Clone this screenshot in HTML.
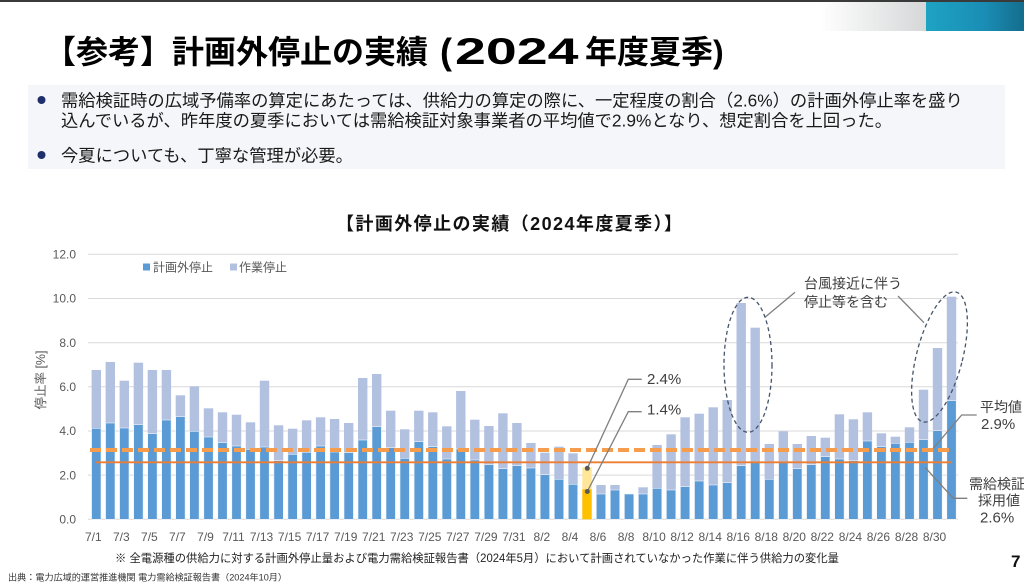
<!DOCTYPE html>
<html><head><meta charset="utf-8">
<style>
html,body{margin:0;padding:0;background:#fff;}
body{width:1024px;height:586px;overflow:hidden;}
svg{display:block;font-family:"Liberation Sans","Noto Sans CJK JP",sans-serif;}
</style></head>
<body>
<svg width="1024" height="586" viewBox="0 0 1024 586" xmlns="http://www.w3.org/2000/svg">
<defs>
<linearGradient id="gg" x1="0" x2="1" y1="0" y2="0"><stop offset="0" stop-color="#ffffff"/><stop offset="1" stop-color="#d6d7d8"/></linearGradient>
<linearGradient id="tg" x1="0" x2="1" y1="0" y2="0"><stop offset="0" stop-color="#1ea3c3"/><stop offset="0.6" stop-color="#1a8db5"/><stop offset="1" stop-color="#146d8c"/></linearGradient>
</defs>
<rect x="0" y="0" width="1024" height="586" fill="#fff"/>
<rect x="0" y="0" width="1024" height="2" fill="#3a3a3a"/>
<rect x="820" y="2" width="106" height="29" fill="url(#gg)"/>
<rect x="926" y="2" width="98" height="29" fill="url(#tg)"/>

<!-- Title -->
<text x="44" y="63" font-size="32" font-weight="bold" fill="#000">【参考】計画外停止の実績</text>
<text x="440" y="64" font-size="36" font-weight="bold" fill="#000">(</text>
<text transform="translate(455,64) scale(1.5,1)" x="0" y="0" font-size="37" font-weight="bold" fill="#000">2024</text>
<text x="585" y="63" font-size="32" font-weight="bold" fill="#000">年度夏季)</text>

<!-- Box -->
<rect x="28" y="85" width="977" height="84" fill="#f4f6f9"/>
<circle cx="41.5" cy="100" r="4" fill="#1f2f6b"/>
<circle cx="41.5" cy="155" r="4" fill="#1f2f6b"/>
<text x="61" y="106.5" font-size="17.3" fill="#1a1a1a">需給検証時の広域予備率の算定にあたっては、供給力の算定の際に、一定程度の割合（2.6%）の計画外停止率を盛り</text>
<text x="61" y="126.5" font-size="17.3" fill="#1a1a1a">込んでいるが、昨年度の夏季においては需給検証対象事業者の平均値で2.9%となり、想定割合を上回った。</text>
<text x="61" y="161.5" font-size="17.3" fill="#1a1a1a">今夏についても、丁寧な管理が必要。</text>

<!-- Chart title -->
<text x="336" y="230" font-size="18" font-weight="bold" fill="#111" textLength="346" lengthAdjust="spacing">【計画外停止の実績（2024年度夏季）】</text>

<!-- Grid -->
<g stroke="#d9d9d9" stroke-width="1">
<line x1="88" x2="958" y1="254.3" y2="254.3"/>
<line x1="88" x2="958" y1="298.5" y2="298.5"/>
<line x1="88" x2="958" y1="342.7" y2="342.7"/>
<line x1="88" x2="958" y1="386.8" y2="386.8"/>
<line x1="88" x2="958" y1="431" y2="431"/>
<line x1="88" x2="958" y1="475.1" y2="475.1"/>
<line x1="88" x2="958" y1="519.3" y2="519.3"/>
</g>
<g font-size="12" fill="#595959" text-anchor="end">
<text x="76" y="258.5">12.0</text>
<text x="76" y="302.7">10.0</text>
<text x="76" y="346.9">8.0</text>
<text x="76" y="391">6.0</text>
<text x="76" y="435.2">4.0</text>
<text x="76" y="479.3">2.0</text>
<text x="76" y="523.5">0.0</text>
</g>
<text transform="translate(45,380) rotate(-90)" font-size="12.5" fill="#595959" text-anchor="middle">停止率 [%]</text>

<!-- Legend -->
<rect x="143" y="263.5" width="7" height="7" fill="#5b9bd5"/>
<text x="153" y="271.5" font-size="12" fill="#595959">計画外停止</text>
<rect x="230" y="263.5" width="7" height="7" fill="#b3c1e1"/>
<text x="239" y="271.5" font-size="12" fill="#595959">作業停止</text>

<!-- Bars -->
<g transform="translate(0,519.3) scale(1,-1)">
<g fill="#b3c1e1">
<rect x="91.6" y="0" width="9.4" height="149.3"/>
<rect x="105.6" y="0" width="9.4" height="157.3"/>
<rect x="119.6" y="0" width="9.4" height="138.6"/>
<rect x="133.7" y="0" width="9.4" height="156.6"/>
<rect x="147.7" y="0" width="9.4" height="149.3"/>
<rect x="161.7" y="0" width="9.4" height="149.3"/>
<rect x="175.7" y="0" width="9.4" height="124"/>
<rect x="189.7" y="0" width="9.4" height="133"/>
<rect x="203.8" y="0" width="9.4" height="111"/>
<rect x="217.8" y="0" width="9.4" height="107"/>
<rect x="231.8" y="0" width="9.4" height="104.6"/>
<rect x="245.8" y="0" width="9.4" height="97"/>
<rect x="259.8" y="0" width="9.4" height="138.6"/>
<rect x="273.9" y="0" width="9.4" height="94"/>
<rect x="287.9" y="0" width="9.4" height="90.6"/>
<rect x="301.9" y="0" width="9.4" height="99"/>
<rect x="315.9" y="0" width="9.4" height="102"/>
<rect x="329.9" y="0" width="9.4" height="100.3"/>
<rect x="344" y="0" width="9.4" height="96.3"/>
<rect x="358" y="0" width="9.4" height="141.3"/>
<rect x="372" y="0" width="9.4" height="145.3"/>
<rect x="386" y="0" width="9.4" height="108.6"/>
<rect x="400" y="0" width="9.4" height="90"/>
<rect x="414.1" y="0" width="9.4" height="108.6"/>
<rect x="428.1" y="0" width="9.4" height="107"/>
<rect x="442.1" y="0" width="9.4" height="93"/>
<rect x="456.1" y="0" width="9.4" height="128.3"/>
<rect x="470.1" y="0" width="9.4" height="99.6"/>
<rect x="484.2" y="0" width="9.4" height="93.3"/>
<rect x="498.2" y="0" width="9.4" height="106"/>
<rect x="512.2" y="0" width="9.4" height="96.3"/>
<rect x="526.2" y="0" width="9.4" height="76.3"/>
<rect x="540.2" y="0" width="9.4" height="66.6"/>
<rect x="554.3" y="0" width="9.4" height="72.6"/>
<rect x="568.3" y="0" width="9.4" height="66"/>
<rect x="596.3" y="0" width="9.4" height="34.3"/>
<rect x="610.3" y="0" width="9.4" height="34.3"/>
<rect x="624.4" y="0" width="9.4" height="25.3"/>
<rect x="638.4" y="0" width="9.4" height="32"/>
<rect x="652.4" y="0" width="9.4" height="74.3"/>
<rect x="666.4" y="0" width="9.4" height="85"/>
<rect x="680.4" y="0" width="9.4" height="102"/>
<rect x="694.5" y="0" width="9.4" height="105.6"/>
<rect x="708.5" y="0" width="9.4" height="112"/>
<rect x="722.5" y="0" width="9.4" height="119.3"/>
<rect x="736.5" y="0" width="9.4" height="216.3"/>
<rect x="750.5" y="0" width="9.4" height="191.6"/>
<rect x="764.6" y="0" width="9.4" height="75.3"/>
<rect x="778.6" y="0" width="9.4" height="88"/>
<rect x="792.6" y="0" width="9.4" height="75.3"/>
<rect x="806.6" y="0" width="9.4" height="83.3"/>
<rect x="820.6" y="0" width="9.4" height="81.6"/>
<rect x="834.7" y="0" width="9.4" height="105"/>
<rect x="848.7" y="0" width="9.4" height="100"/>
<rect x="862.7" y="0" width="9.4" height="107"/>
<rect x="876.7" y="0" width="9.4" height="86"/>
<rect x="890.7" y="0" width="9.4" height="82.6"/>
<rect x="904.8" y="0" width="9.4" height="92"/>
<rect x="918.8" y="0" width="9.4" height="129.6"/>
<rect x="932.8" y="0" width="9.4" height="171.3"/>
<rect x="946.8" y="0" width="9.4" height="222.6"/>
</g>
<rect x="582.3" y="0" width="9.4" height="52" fill="#ffe699"/>
<rect x="582.3" y="0" width="9.4" height="30" fill="#ffc000"/>
<g fill="#5b9bd5" stroke="#eef3fa" stroke-width="0.6">
<rect x="91.6" y="0" width="9.4" height="91"/>
<rect x="105.6" y="0" width="9.4" height="96.3"/>
<rect x="119.6" y="0" width="9.4" height="91.3"/>
<rect x="133.7" y="0" width="9.4" height="94.6"/>
<rect x="147.7" y="0" width="9.4" height="85.6"/>
<rect x="161.7" y="0" width="9.4" height="99.3"/>
<rect x="175.7" y="0" width="9.4" height="102.6"/>
<rect x="189.7" y="0" width="9.4" height="88"/>
<rect x="203.8" y="0" width="9.4" height="82.3"/>
<rect x="217.8" y="0" width="9.4" height="76.6"/>
<rect x="231.8" y="0" width="9.4" height="73.3"/>
<rect x="245.8" y="0" width="9.4" height="70"/>
<rect x="259.8" y="0" width="9.4" height="72.3"/>
<rect x="273.9" y="0" width="9.4" height="58.6"/>
<rect x="287.9" y="0" width="9.4" height="65"/>
<rect x="301.9" y="0" width="9.4" height="67"/>
<rect x="315.9" y="0" width="9.4" height="73.3"/>
<rect x="329.9" y="0" width="9.4" height="67.3"/>
<rect x="344" y="0" width="9.4" height="66.6"/>
<rect x="358" y="0" width="9.4" height="79.3"/>
<rect x="372" y="0" width="9.4" height="92.6"/>
<rect x="386" y="0" width="9.4" height="71.6"/>
<rect x="400" y="0" width="9.4" height="61"/>
<rect x="414.1" y="0" width="9.4" height="77.6"/>
<rect x="428.1" y="0" width="9.4" height="72.6"/>
<rect x="442.1" y="0" width="9.4" height="60.3"/>
<rect x="456.1" y="0" width="9.4" height="70.3"/>
<rect x="470.1" y="0" width="9.4" height="59.3"/>
<rect x="484.2" y="0" width="9.4" height="54.6"/>
<rect x="498.2" y="0" width="9.4" height="50.6"/>
<rect x="512.2" y="0" width="9.4" height="53.6"/>
<rect x="526.2" y="0" width="9.4" height="51.3"/>
<rect x="540.2" y="0" width="9.4" height="44.6"/>
<rect x="554.3" y="0" width="9.4" height="40"/>
<rect x="568.3" y="0" width="9.4" height="35"/>
<rect x="596.3" y="0" width="9.4" height="25.3"/>
<rect x="610.3" y="0" width="9.4" height="29.3"/>
<rect x="624.4" y="0" width="9.4" height="25.3"/>
<rect x="638.4" y="0" width="9.4" height="25.3"/>
<rect x="652.4" y="0" width="9.4" height="31"/>
<rect x="666.4" y="0" width="9.4" height="29.3"/>
<rect x="680.4" y="0" width="9.4" height="32.6"/>
<rect x="694.5" y="0" width="9.4" height="38.3"/>
<rect x="708.5" y="0" width="9.4" height="34.3"/>
<rect x="722.5" y="0" width="9.4" height="36.6"/>
<rect x="736.5" y="0" width="9.4" height="53.6"/>
<rect x="750.5" y="0" width="9.4" height="56.6"/>
<rect x="764.6" y="0" width="9.4" height="40"/>
<rect x="778.6" y="0" width="9.4" height="56.6"/>
<rect x="792.6" y="0" width="9.4" height="50.6"/>
<rect x="806.6" y="0" width="9.4" height="54.6"/>
<rect x="820.6" y="0" width="9.4" height="62.6"/>
<rect x="834.7" y="0" width="9.4" height="60.3"/>
<rect x="848.7" y="0" width="9.4" height="58.6"/>
<rect x="862.7" y="0" width="9.4" height="78.3"/>
<rect x="876.7" y="0" width="9.4" height="72.6"/>
<rect x="890.7" y="0" width="9.4" height="76"/>
<rect x="904.8" y="0" width="9.4" height="77"/>
<rect x="918.8" y="0" width="9.4" height="79.6"/>
<rect x="932.8" y="0" width="9.4" height="88.6"/>
<rect x="946.8" y="0" width="9.4" height="118.6"/>
</g>
</g>

<!-- Reference lines -->
<line x1="90" x2="954" y1="450" y2="450" stroke="#f59d4c" stroke-width="4" stroke-dasharray="11 5"/>
<line x1="96" x2="952" y1="462.3" y2="462.3" stroke="#ed7d31" stroke-width="1.8"/>

<!-- X labels -->
<g font-size="12" fill="#595959" text-anchor="middle">
<text x="93.3" y="541">7/1</text>
<text x="121.3" y="541">7/3</text>
<text x="149.4" y="541">7/5</text>
<text x="177.4" y="541">7/7</text>
<text x="205.5" y="541">7/9</text>
<text x="233.5" y="541">7/11</text>
<text x="261.5" y="541">7/13</text>
<text x="289.6" y="541">7/15</text>
<text x="317.6" y="541">7/17</text>
<text x="345.7" y="541">7/19</text>
<text x="373.7" y="541">7/21</text>
<text x="401.7" y="541">7/23</text>
<text x="429.8" y="541">7/25</text>
<text x="457.8" y="541">7/27</text>
<text x="485.9" y="541">7/29</text>
<text x="513.9" y="541">7/31</text>
<text x="541.9" y="541">8/2</text>
<text x="570" y="541">8/4</text>
<text x="598" y="541">8/6</text>
<text x="626.1" y="541">8/8</text>
<text x="654.1" y="541">8/10</text>
<text x="682.1" y="541">8/12</text>
<text x="710.2" y="541">8/14</text>
<text x="738.2" y="541">8/16</text>
<text x="766.3" y="541">8/18</text>
<text x="794.3" y="541">8/20</text>
<text x="822.3" y="541">8/22</text>
<text x="850.4" y="541">8/24</text>
<text x="878.4" y="541">8/26</text>
<text x="906.5" y="541">8/28</text>
<text x="934.5" y="541">8/30</text>
</g>

<!-- Annotations -->
<g fill="none" stroke="#7f7f7f" stroke-width="1.3">
<polyline points="587.3,468.3 628.3,379.3 641.7,379.3"/>
<polyline points="587.3,491.5 628.3,411.7 641.7,411.7"/>
<line x1="795" y1="292.3" x2="765" y2="317.3"/>
<line x1="898" y1="296" x2="924" y2="322.7"/>
<polyline points="933.3,448.3 961.7,415 976.7,415"/>
<polyline points="925,467.3 953.3,498.3 967.3,498.3"/>
</g>
<circle cx="587.3" cy="468.3" r="2.5" fill="#595959"/>
<circle cx="587.3" cy="491.5" r="2.5" fill="#595959"/>
<g fill="none" stroke="#44546a" stroke-width="1.3" stroke-dasharray="4 3">
<ellipse cx="748" cy="364.8" rx="24" ry="67.5"/>
<ellipse cx="0" cy="0" rx="23" ry="67" transform="translate(939.5,357) rotate(14.5)"/>
</g>
<g fill="#404040">
<text x="647" y="384" font-size="15">2.4%</text>
<text x="647" y="414.5" font-size="15">1.4%</text>
<text x="804" y="288.5" font-size="14">台風接近に伴う</text>
<text x="804" y="307" font-size="14">停止等を含む</text>
<text x="980" y="412" font-size="14">平均値</text>
<text x="981" y="429" font-size="15">2.9%</text>
<text x="969" y="489" font-size="14">需給検証</text>
<text x="978" y="505.5" font-size="14">採用値</text>
<text x="980" y="522.5" font-size="15">2.6%</text>
</g>

<!-- Footnotes -->
<text x="115" y="562" font-size="11.5" fill="#222" textLength="724" lengthAdjust="spacingAndGlyphs">※ 全電源種の供給力に対する計画外停止量および電力需給検証報告書（2024年5月）において計画されていなかった作業に伴う供給力の変化量</text>
<text x="8" y="580.5" font-size="9" fill="#333" textLength="279" lengthAdjust="spacingAndGlyphs">出典：電力広域的運営推進機関 電力需給検証報告書（2024年10月）</text>
<text x="1011" y="567" font-size="17" font-weight="bold" fill="#111">7</text>
</svg>
</body></html>
